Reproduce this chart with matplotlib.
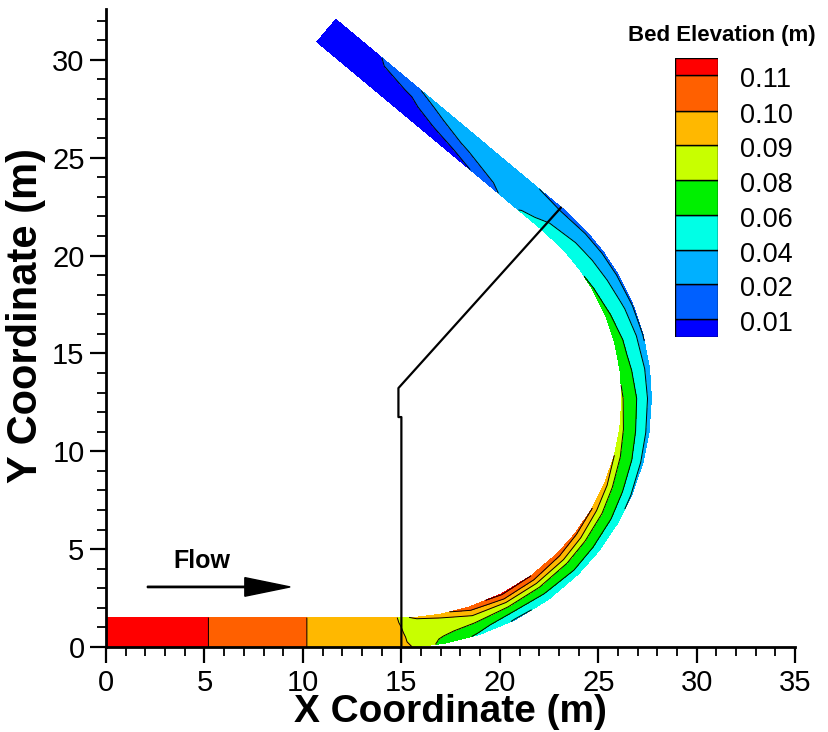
import numpy as np
import matplotlib.pyplot as plt
from matplotlib.patches import Rectangle

plt.rcParams['font.family'] = ['Liberation Sans', 'DejaVu Sans']

# channel geometry (m)
width = 1.5
bend_center = (15.0, 12.7)
r_centre = 11.95
bend_end = 140.0          # bend angle, degrees
# sample positions across the channel, inner bank (0) -> outer bank (1)
cross = [0, 1/6, 2/6, 3/6, 4/6, 5/6, 1]

# upstream straight reach: x position and bed elevation (uniform across)
up_x = [0.0, 14.5]
up_z = [0.1204, 0.0914]

# bend: angle from bend entrance (deg) and elevation profile inner -> outer
bend_deg = [0, 4, 10, 18, 27, 36, 45, 52, 60, 67, 75, 82, 90, 97, 105,
            112, 120, 126, 132, 140]
bend_z = [
    [0.089, 0.0895, 0.090, 0.0905, 0.091, 0.091, 0.0915],
    [0.091, 0.088, 0.086, 0.086, 0.087, 0.088, 0.089],
    [0.096, 0.088, 0.086, 0.084, 0.082, 0.078, 0.075],
    [0.108, 0.097, 0.089, 0.083, 0.076, 0.066, 0.056],
    [0.112, 0.102, 0.090, 0.080, 0.066, 0.050, 0.038],
    [0.110, 0.100, 0.089, 0.079, 0.067, 0.054, 0.042],
    [0.106, 0.097, 0.088, 0.078, 0.068, 0.058, 0.045],
    [0.103, 0.094, 0.085, 0.076, 0.066, 0.056, 0.045],
    [0.100, 0.090, 0.082, 0.074, 0.064, 0.054, 0.042],
    [0.096, 0.086, 0.078, 0.070, 0.060, 0.050, 0.038],
    [0.090, 0.082, 0.074, 0.066, 0.057, 0.047, 0.034],
    [0.086, 0.078, 0.070, 0.062, 0.054, 0.045, 0.030],
    [0.082, 0.074, 0.066, 0.060, 0.052, 0.043, 0.028],
    [0.078, 0.070, 0.062, 0.056, 0.049, 0.040, 0.024],
    [0.074, 0.066, 0.058, 0.051, 0.045, 0.037, 0.019],
    [0.068, 0.060, 0.053, 0.047, 0.041, 0.034, 0.017],
    [0.062, 0.055, 0.048, 0.043, 0.037, 0.030, 0.015],
    [0.059, 0.052, 0.046, 0.041, 0.035, 0.028, 0.015],
    [0.056, 0.050, 0.044, 0.039, 0.033, 0.026, 0.014],
    [0.048, 0.044, 0.040, 0.034, 0.028, 0.022, 0.016],
]

# downstream straight reach: distance from bend exit (m), profile inner -> outer
down_d = [1.5, 3.5, 5.5, 7.5, 9.5, 12.0, 15.0]
down_z = [
    [0.042, 0.036, 0.032, 0.030, 0.027, 0.024, 0.020],
    [0.012, 0.020, 0.026, 0.030, 0.031, 0.031, 0.030],
    [0.009, 0.011, 0.016, 0.022, 0.026, 0.028, 0.028],
    [0.006, 0.008, 0.0105, 0.015, 0.019, 0.023, 0.026],
    [0.004, 0.006, 0.007, 0.008, 0.0105, 0.015, 0.0195],
    [0.004, 0.005, 0.006, 0.007, 0.008, 0.009, 0.0098],
    [0.003, 0.004, 0.005, 0.005, 0.005, 0.005, 0.005],
]

# radial section line drawn on the plot
section_x = [15.0, 15.0, 14.85, 14.85, 23.1]
section_y = [0.0, 11.75, 11.75, 13.23, 22.45]

levels = [0.01, 0.02, 0.04, 0.06, 0.08, 0.09, 0.10, 0.11]
level_labels = ["0.01", "0.02", "0.04", "0.06", "0.08", "0.09", "0.10", "0.11"]
colors = ['#0000ff', '#0060ff', '#00b0ff', '#00ffe6', '#00f000',
          '#c8ff00', '#ffb800', '#ff6000', '#ff0000']

# build curvilinear grid (stations x cross positions)
off = 0.5 * width - width * np.array(cross)   # offset towards bend centre
cx, cy = bend_center
X, Y, Z = [], [], []
for x, z in zip(up_x, up_z):
    X.append(np.full(len(cross), x))
    Y.append(0.5 * width + off)
    Z.append(np.full(len(cross), z))
for phi, zr in zip(bend_deg, bend_z):
    a = np.radians(phi - 90)
    r = r_centre - off
    X.append(cx + r * np.cos(a))
    Y.append(cy + r * np.sin(a))
    Z.append(np.array(zr))
a_end = np.radians(bend_end - 90)
tx, ty = -np.sin(a_end), np.cos(a_end)
for d, zr in zip(down_d, down_z):
    r = r_centre - off
    X.append(cx + r * np.cos(a_end) + d * tx)
    Y.append(cy + r * np.sin(a_end) + d * ty)
    Z.append(np.array(zr))
X, Y, Z = np.array(X), np.array(Y), np.array(Z)

fig = plt.figure(figsize=(8.29, 7.32), dpi=100)
ax = fig.add_axes([0.1279, 0.1161, 0.8313, 0.8716])

ax.contourf(X, Y, Z, levels=[-1] + levels + [1], colors=colors)
ax.contour(X, Y, Z, levels=levels, colors='k', linewidths=0.7)
ax.plot(section_x, section_y, color='k', lw=1.6)

# flow arrow
ax.arrow(2.1, 3.07, 7.25, 0, width=0.07, head_width=0.95, head_length=2.3,
         length_includes_head=True, fc='k', ec='k')
ax.text(3.4, 4.4, "Flow", fontsize=18, fontweight='bold', va='center')

ax.set_xlim(0, 35)
ax.set_ylim(0, 32.6)
ax.set_xticks(np.arange(0, 36, 5))
ax.set_yticks(np.arange(0, 31, 5))
ax.set_xticks(np.arange(0, 36, 1), minor=True)
ax.set_yticks(np.arange(0, 33, 1), minor=True)
ax.tick_params(which='major', length=11.5, width=1.6, labelsize=21, pad=4)
ax.tick_params(which='minor', length=6.5, width=1.3)
for side in ['top', 'right']:
    ax.spines[side].set_visible(False)
for side in ['left', 'bottom']:
    ax.spines[side].set_linewidth(2)
ax.set_xlabel("X Coordinate (m)", fontsize=28, fontweight='bold', labelpad=-2)
ax.set_ylabel("Y Coordinate (m)", fontsize=30, fontweight='bold')
ax.yaxis.set_label_coords(-0.087, 0.52)

# legend
lax = fig.add_axes([0.8142, 0.5396, 0.0519, 0.3811])
lax.set_xlim(0, 1)
lax.set_ylim(279, 0)
lax.axis('off')
edges = [279, 261, 226, 192, 157, 122, 87, 53, 17, 0]
for i, c in enumerate(colors):
    lax.add_patch(Rectangle((0, edges[i + 1]), 1, edges[i] - edges[i + 1],
                            fc=c, ec='k', lw=1))
for lab, e in zip(level_labels, edges[1:-1]):
    lax.text(1.5, e + 5, lab, fontsize=19.5, va='center', ha='left')
fig.text(0.758, 0.952, "Bed Elevation (m)", fontsize=16, fontweight='bold',
         va='center', ha='left')

fig.savefig("out.png", dpi=100)
